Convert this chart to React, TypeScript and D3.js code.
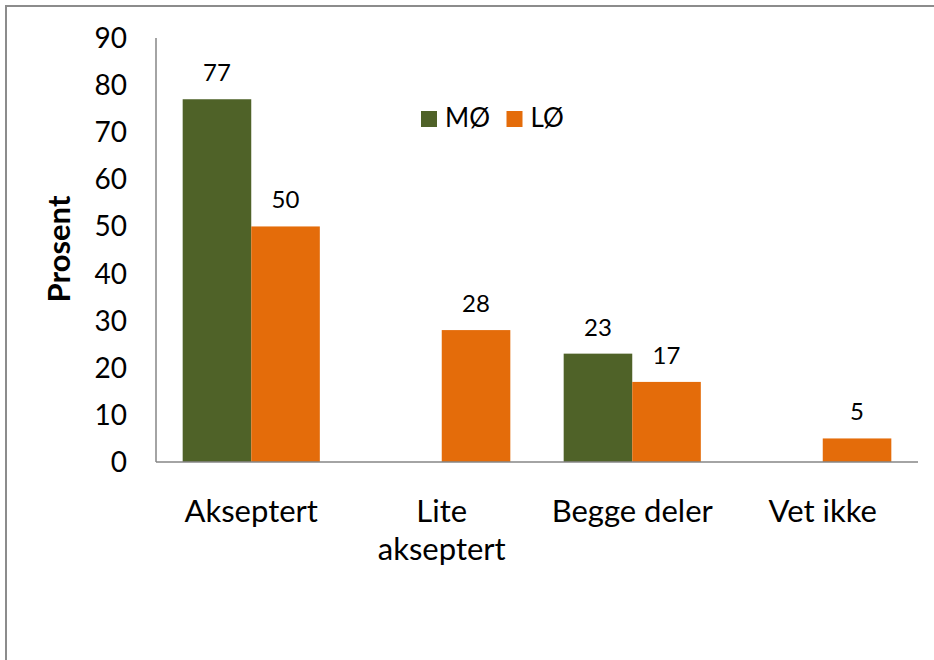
import React from "react";
import * as d3 from "d3";

const categories: string[][] = [["Akseptert"], ["Lite", "akseptert"], ["Begge deler"], ["Vet ikke"]];
const seriesNames = ["MØ", "LØ"];
const valuesMO = [77, 0, 23, 0];
const valuesLO = [50, 28, 17, 5];
const yTicks = [0, 10, 20, 30, 40, 50, 60, 70, 80, 90];
const colors = ["#4F6228", "#E46C0A"];

const W = 934;
const H = 660;
const FONT = "Lato, 'Open Sans', sans-serif";

export default function App() {
  const left = 156, right = 918, top = 38, bottom = 462;
  const keys = categories.map((c) => c.join(" "));
  const x0 = d3.scaleBand<string>().domain(keys).range([left, right]).paddingInner(0).paddingOuter(0);
  const x1 = d3.scaleBand<string>().domain(seriesNames).range([0, x0.bandwidth()]).paddingInner(0).paddingOuter(0.389);
  const y = d3.scaleLinear().domain([0, 90]).range([bottom, top]);
  const series = [valuesMO, valuesLO];

  return (
    <svg width={W} height={H} style={{ position: "absolute", left: 0, top: 0, background: "#fff" }}>
      <rect x={0} y={0} width={W} height={H} fill="#fff" />
      <rect x={6} y={6} width={W + 20} height={H + 20} fill="none" stroke="#8c8c8c" strokeWidth={2} />
      {series.map((vals, si) =>
        vals.map((v, ci) => {
          const xb = (x0(keys[ci]) as number) + (x1(seriesNames[si]) as number);
          const bw = x1.bandwidth();
          return v > 0 ? (
            <g key={`${si}-${ci}`}>
              <rect x={xb} y={y(v)} width={bw} height={bottom - y(v)} fill={colors[si]} />
              <text x={xb + bw / 2} y={y(v) - 18} textAnchor="middle" fontFamily={FONT} fontSize={24} fill="#000">
                {v}
              </text>
            </g>
          ) : null;
        })
      )}
      <line x1={left} x2={left} y1={top} y2={bottom} stroke="#868686" strokeWidth={1.5} />
      <line x1={left} x2={right} y1={bottom} y2={bottom} stroke="#868686" strokeWidth={1.5} />
      {yTicks.map((t) => (
        <text key={t} x={127} y={y(t) + 10} textAnchor="end" fontFamily={FONT} fontSize={28} fill="#000">
          {t}
        </text>
      ))}
      {categories.map((lines, ci) => {
        const cx = (x0(keys[ci]) as number) + x0.bandwidth() / 2;
        return (
          <text key={ci} x={cx} y={522} textAnchor="middle" fontFamily={FONT} fontSize={31} fill="#000">
            {lines.map((l, li) => (
              <tspan key={li} x={cx} dy={li === 0 ? 0 : 38}>
                {l}
              </tspan>
            ))}
          </text>
        );
      })}
      <text
        transform={`translate(70,249) rotate(-90)`}
        textAnchor="middle"
        fontFamily={FONT}
        fontSize={31}
        fontWeight="bold"
        fill="#000"
      >
        Prosent
      </text>
      {seriesNames.map((s, i) => {
        const lx = [421, 506.5][i];
        return (
          <g key={s}>
            <rect x={lx} y={111} width={16} height={16} fill={colors[i]} />
            <text x={lx + 24} y={127} fontFamily={FONT} fontSize={26} fill="#000">
              {s}
            </text>
          </g>
        );
      })}
    </svg>
  );
}
